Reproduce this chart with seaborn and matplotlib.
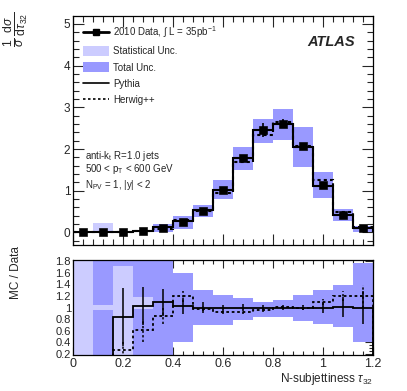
import numpy as np
import matplotlib
matplotlib.use("Agg")
import matplotlib.pyplot as plt
from matplotlib.lines import Line2D
from matplotlib.patches import Patch
from matplotlib.ticker import MultipleLocator
import seaborn as sns

# bins of tau32
edges = np.round(np.arange(0, 1.2001, 0.08), 2)
centers = (edges[:-1] + edges[1:]) / 2

# top panel: normalised distribution
data_vals = [0.0, 0.0, 0.02, 0.04, 0.11, 0.26, 0.52, 1.02, 1.78, 2.46, 2.61, 2.08, 1.14, 0.42, 0.10]
data_err = [0.0, 0.0, 0.0, 0.0, 0.02, 0.03, 0.04, 0.06, 0.08, 0.16, 0.11, 0.05, 0.05, 0.03, 0.02]
pythia = [0.0, 0.0, 0.01, 0.04, 0.12, 0.27, 0.53, 1.01, 1.78, 2.45, 2.60, 2.06, 1.12, 0.41, 0.10]
herwig = [0.0, 0.0, 0.005, 0.025, 0.095, 0.31, 0.52, 0.95, 1.68, 2.34, 2.65, 2.08, 1.26, 0.50, 0.12]
tot_lo = [0, 0, 0, 0.0, 0.0, 0.08, 0.37, 0.81, 1.50, 2.14, 2.22, 1.58, 0.82, 0.28, 0.02]
tot_hi = [0, 0, 0, 0.06, 0.20, 0.40, 0.66, 1.27, 2.06, 2.72, 2.95, 2.53, 1.46, 0.57, 0.16]
stat_lo = [0, 0.0, 0, 0, 0, 0, 0, 0, 0, 0, 0, 0, 0, 0, 0]
stat_hi = [0, 0.22, 0, 0, 0, 0, 0, 0, 0, 0, 0, 0, 0, 0, 0]

# bottom panel: MC / Data
r_tot_lo = [0.0, 0.0, 0.0, 0.0, 0.0, 0.41, 0.69, 0.69, 0.78, 0.84, 0.84, 0.76, 0.71, 0.67, 0.40]
r_tot_hi = [2.0, 2.0, 2.0, 2.0, 2.0, 1.60, 1.30, 1.22, 1.16, 1.10, 1.13, 1.22, 1.30, 1.39, 1.76]
r_stat_lo = [0.0, 0.96, 0.0, 0.98, 1, 1, 1, 1, 1, 1, 1, 1, 1, 1, 1]
r_stat_hi = [2.0, 1.04, 1.72, 1.18, 1, 1, 1, 1, 1, 1, 1, 1, 1, 1, 1]
r_pythia = [0.0, 0.0, 0.84, 1.02, 1.09, 1.03, 1.0, 0.99, 1.0, 1.0, 1.0, 1.0, 1.0, 1.01, 1.0]
r_pythia_err = [0, 0, 0.5, 0.33, 0.23, 0.14, 0.10, 0.06, 0.06, 0.05, 0.05, 0.05, 0.10, 0.17, 0.29]
r_herwig = [0.0, 0.0, 0.27, 0.61, 0.86, 1.19, 0.98, 0.93, 0.93, 0.96, 1.01, 1.0, 1.1, 1.2, 1.19]
r_herwig_err = [0, 0, 0.15, 0.2, 0.14, 0.09, 0.04, 0.04, 0.04, 0.04, 0.04, 0.04, 0.05, 0.08, 0.2]

STAT_COL = "#ccccff"
TOT_COL = "#9999ff"

sns.set_theme(style="ticks")
plt.rcParams["font.family"] = ["Liberation Sans", "DejaVu Sans"]
plt.rcParams["mathtext.fontset"] = "custom"
plt.rcParams["mathtext.rm"] = "Liberation Sans"
plt.rcParams["mathtext.it"] = "Liberation Sans:italic"
plt.rcParams["mathtext.bf"] = "Liberation Sans:bold"

W, H = 407, 391
fig = plt.figure(figsize=(W / 100, H / 100), dpi=100)
ax1 = fig.add_axes([73 / W, 1 - 245 / H, 300 / W, 229 / H])
ax2 = fig.add_axes([73 / W, 1 - 355 / H, 300 / W, 95 / H])

width = 0.08
lo = edges[:-1]

# --- top panel
ax1.bar(lo, np.subtract(tot_hi, tot_lo), bottom=tot_lo, width=width, align="edge",
        color=TOT_COL, linewidth=0)
ax1.bar(lo, np.subtract(stat_hi, stat_lo), bottom=stat_lo, width=width, align="edge",
        color=STAT_COL, linewidth=0)
ax1.stairs(pythia, edges, color="black", linewidth=1.5)
ax1.stairs(herwig, edges, color="black", linewidth=1.5, linestyle=(0, (1.5, 1.5)))
ax1.errorbar(centers, data_vals, yerr=data_err, fmt="none", ecolor="black", elinewidth=1.2)
sns.scatterplot(x=centers, y=data_vals, marker="s", s=30, color="black",
                edgecolor="black", ax=ax1, zorder=5)

ax1.set_xlim(0, 1.2)
ax1.set_ylim(-0.3, 5.19)
ax1.xaxis.set_major_locator(MultipleLocator(0.2))
ax1.xaxis.set_minor_locator(MultipleLocator(0.04))
ax1.yaxis.set_major_locator(MultipleLocator(1))
ax1.yaxis.set_minor_locator(MultipleLocator(0.2))
ax1.tick_params(which="both", direction="in", top=True, right=True, labelbottom=False,
                labelsize=8.5, pad=2)
ax1.tick_params(which="major", length=8, width=0.8)
ax1.tick_params(which="minor", length=4, width=0.8)

handles = [
    Line2D([], [], color="black", linewidth=2, marker="s", markersize=5),
    Patch(facecolor=STAT_COL, edgecolor="none"),
    Patch(facecolor=TOT_COL, edgecolor="none"),
    Line2D([], [], color="black", linewidth=1.2),
    Line2D([], [], color="black", linewidth=1.2, linestyle=(0, (1.5, 1.5))),
]
labels = [r"2010 Data, $\int$ L = 35pb$^{-1}$", "Statistical Unc.", "Total Unc.",
          "Pythia", "Herwig++"]
ax1.legend(handles, labels, loc="upper left", bbox_to_anchor=(0.015, 0.99), frameon=False,
           fontsize=7, handlelength=2.6, handleheight=1.2, labelspacing=0.62,
           handletextpad=0.5, borderaxespad=0.2)

ax1.text(0.86, 0.885, "ATLAS", transform=ax1.transAxes, fontsize=10.5,
         fontweight="bold", fontstyle="italic", ha="center", va="center")
ax1.text(0.04, 0.39, r"anti-k$_{\mathregular{t}}$ R=1.0 jets", transform=ax1.transAxes,
         fontsize=7, va="center")
ax1.text(0.04, 0.33, r"500 < p$_{\mathregular{T}}$ < 600 GeV", transform=ax1.transAxes,
         fontsize=7, va="center")
ax1.text(0.04, 0.26, r"N$_{\mathregular{PV}}$ = 1, |y| < 2", transform=ax1.transAxes,
         fontsize=7, va="center")

fig.text(16 / W, 1 - 12 / H,
         r"$\frac{1}{\sigma}\,\frac{\mathregular{d}\sigma}{\mathregular{d}\tau_{32}}$",
         rotation=90, ha="center", va="top", fontsize=12.5)

# --- bottom panel
ax2.bar(lo, np.subtract(r_tot_hi, r_tot_lo), bottom=r_tot_lo, width=width, align="edge",
        color=TOT_COL, linewidth=0)
ax2.bar(lo, np.subtract(r_stat_hi, r_stat_lo), bottom=r_stat_lo, width=width, align="edge",
        color=STAT_COL, linewidth=0)
ax2.stairs(r_pythia, edges, color="black", linewidth=1.3)
ax2.stairs(r_herwig, edges, color="black", linewidth=1.3, linestyle=(0, (1.5, 1.5)))
mask = np.array(r_pythia_err) > 0
ax2.errorbar(centers[mask], np.array(r_pythia)[mask], yerr=np.array(r_pythia_err)[mask],
             fmt="none", ecolor="black", elinewidth=1.1)
eb = ax2.errorbar(centers[mask], np.array(r_herwig)[mask], yerr=np.array(r_herwig_err)[mask],
                  fmt="none", ecolor="black", elinewidth=1.1)
eb[2][0].set_linestyle((0, (1.5, 1.5)))

ax2.set_xlim(0, 1.2)
ax2.set_ylim(0.18, 1.82)
ax2.xaxis.set_major_locator(MultipleLocator(0.2))
ax2.xaxis.set_minor_locator(MultipleLocator(0.04))
ax2.yaxis.set_major_locator(MultipleLocator(0.2))
ax2.yaxis.set_minor_locator(MultipleLocator(0.05))
ax2.set_xticks(np.round(np.arange(0, 1.21, 0.2), 1))
ax2.set_xticklabels(["0", "0.2", "0.4", "0.6", "0.8", "1", "1.2"])
ax2.set_yticks(np.round(np.arange(0.2, 1.81, 0.2), 1))
ax2.set_yticklabels(["0.2", "0.4", "0.6", "0.8", "1", "1.2", "1.4", "1.6", "1.8"])
ax2.tick_params(which="both", direction="in", top=True, right=True, width=0.8)
ax2.tick_params(which="major", length=6)
ax2.tick_params(which="minor", length=3)
ax2.tick_params(axis="x", labelsize=9, pad=2)
ax2.tick_params(axis="y", labelsize=8, pad=1.5)

ax2.set_xlabel(r"N-subjettiness $\tau_{32}$", fontsize=8.5, loc="right", labelpad=1)
fig.text(16 / W, 1 - 273 / H, "MC / Data", rotation=90, ha="center", va="center",
         fontsize=8.5)

for ax in (ax1, ax2):
    for sp in ax.spines.values():
        sp.set_linewidth(0.9)
        sp.set_color("black")

fig.savefig("out.png", dpi=100)
